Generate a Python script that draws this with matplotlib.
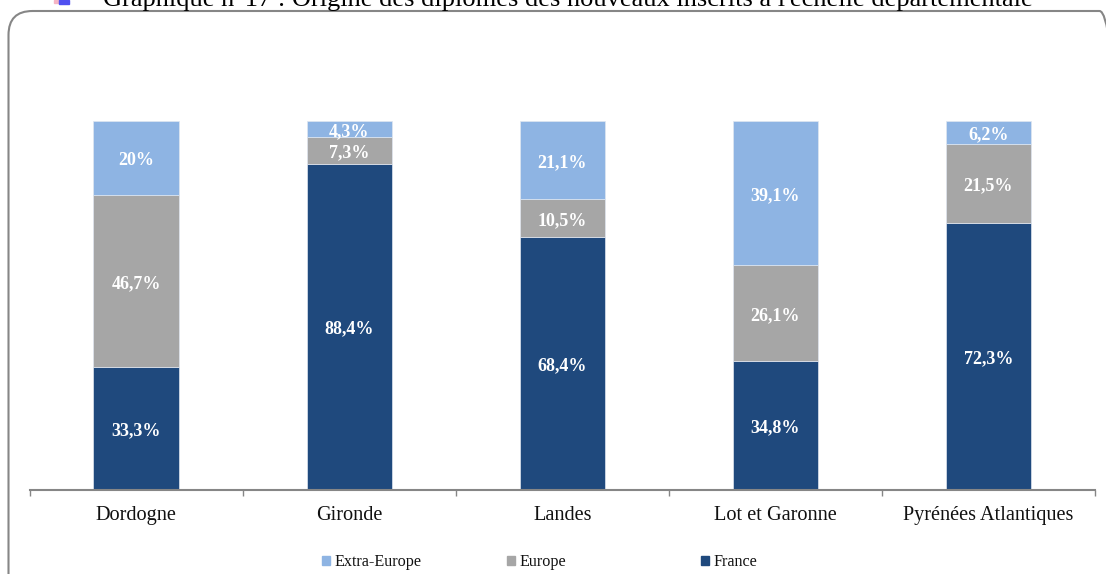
import matplotlib
matplotlib.use("Agg")
from matplotlib import pyplot as plt
from matplotlib.patches import FancyBboxPatch, Rectangle

plt.rcParams['font.family'] = ['Liberation Serif', 'DejaVu Serif']

categories = ["Dordogne", "Gironde", "Landes", "Lot et Garonne", "Pyrénées Atlantiques"]
france = [33.3, 88.4, 68.4, 34.8, 72.3]
europe = [46.7, 7.3, 10.5, 26.1, 21.5]
extra = [20, 4.3, 21.1, 39.1, 6.2]
title = "Graphique n°17 : Origine des diplômes des nouveaux inscrits à l'échelle départementale"

W, H = 1106, 574
fig = plt.figure(figsize=(W / 100, H / 100), dpi=100)
ax = fig.add_axes([29.5 / W, 1 - 489.5 / H, (1095 - 29.5) / W, (489.5 - 121) / H])


def fmt(v):
    return f"{v:g}%".replace(".", ",")


x = range(len(categories))
bottom = [0] * 5
for vals, col in [(france, "#1F497D"), (europe, "#A6A6A6"), (extra, "#8EB4E3")]:
    ax.bar(x, vals, width=0.4, bottom=bottom, color=col, edgecolor="#dfe6f0", linewidth=0.5)
    for i, v in enumerate(vals):
        ax.annotate(fmt(v), (i, bottom[i] + v / 2), xytext=(0, -1.8), textcoords="offset points",
                    ha="center", va="center", color="white", fontsize=13, fontweight="bold")
    bottom = [b + v for b, v in zip(bottom, vals)]

ax.set_xlim(-0.5, 4.5)
ax.set_ylim(0, 100)
ax.set_yticks([])
for s in ["top", "left", "right"]:
    ax.spines[s].set_visible(False)
ax.spines["bottom"].set_color("#868686")
ax.spines["bottom"].set_linewidth(1.5)
ax.set_xticks([-0.5, 0.5, 1.5, 2.5, 3.5, 4.5])
ax.set_xticklabels([])
ax.tick_params(axis="x", length=4, width=1, color="#868686")
for i, c in enumerate(categories):
    ax.annotate(c, (i, 0), xytext=(0, -19), textcoords="offset points", ha="center", va="center",
                fontsize=14.6, color="#111111", annotation_clip=False)

# cadre arrondi, coupe en bas et a droite
frame = FancyBboxPatch((8.5, H - 600), 1115, 589, boxstyle="round,pad=0,rounding_size=24",
                       facecolor="none", edgecolor="#868686", linewidth=1.5)
frame.set_transform(matplotlib.transforms.IdentityTransform())
fig.add_artist(frame)

fig.text(103 / W, 1 - 6 / H, title, ha="left", va="baseline", fontsize=19, color="black")

# puce du titre
fig.add_artist(Rectangle((54 / W, 1 - 3 / H), 5 / W, 3 / H, transform=fig.transFigure, color="#f5b5c5"))
fig.add_artist(Rectangle((59 / W, 1 - 4 / H), 10 / W, 4 / H, transform=fig.transFigure, color="#5050f0"))

# legende
for lx, name, col in [(322, "Extra-Europe", "#8EB4E3"), (507, "Europe", "#A6A6A6"), (701, "France", "#1F497D")]:
    fig.add_artist(Rectangle((lx / W, 1 - 565 / H), 8 / W, 9 / H, transform=fig.transFigure, color=col))
    fig.text((lx + 12) / W, 1 - 561.5 / H, name, ha="left", va="center", fontsize=11.6, color="#111111")

fig.savefig("out.png", dpi=100)
